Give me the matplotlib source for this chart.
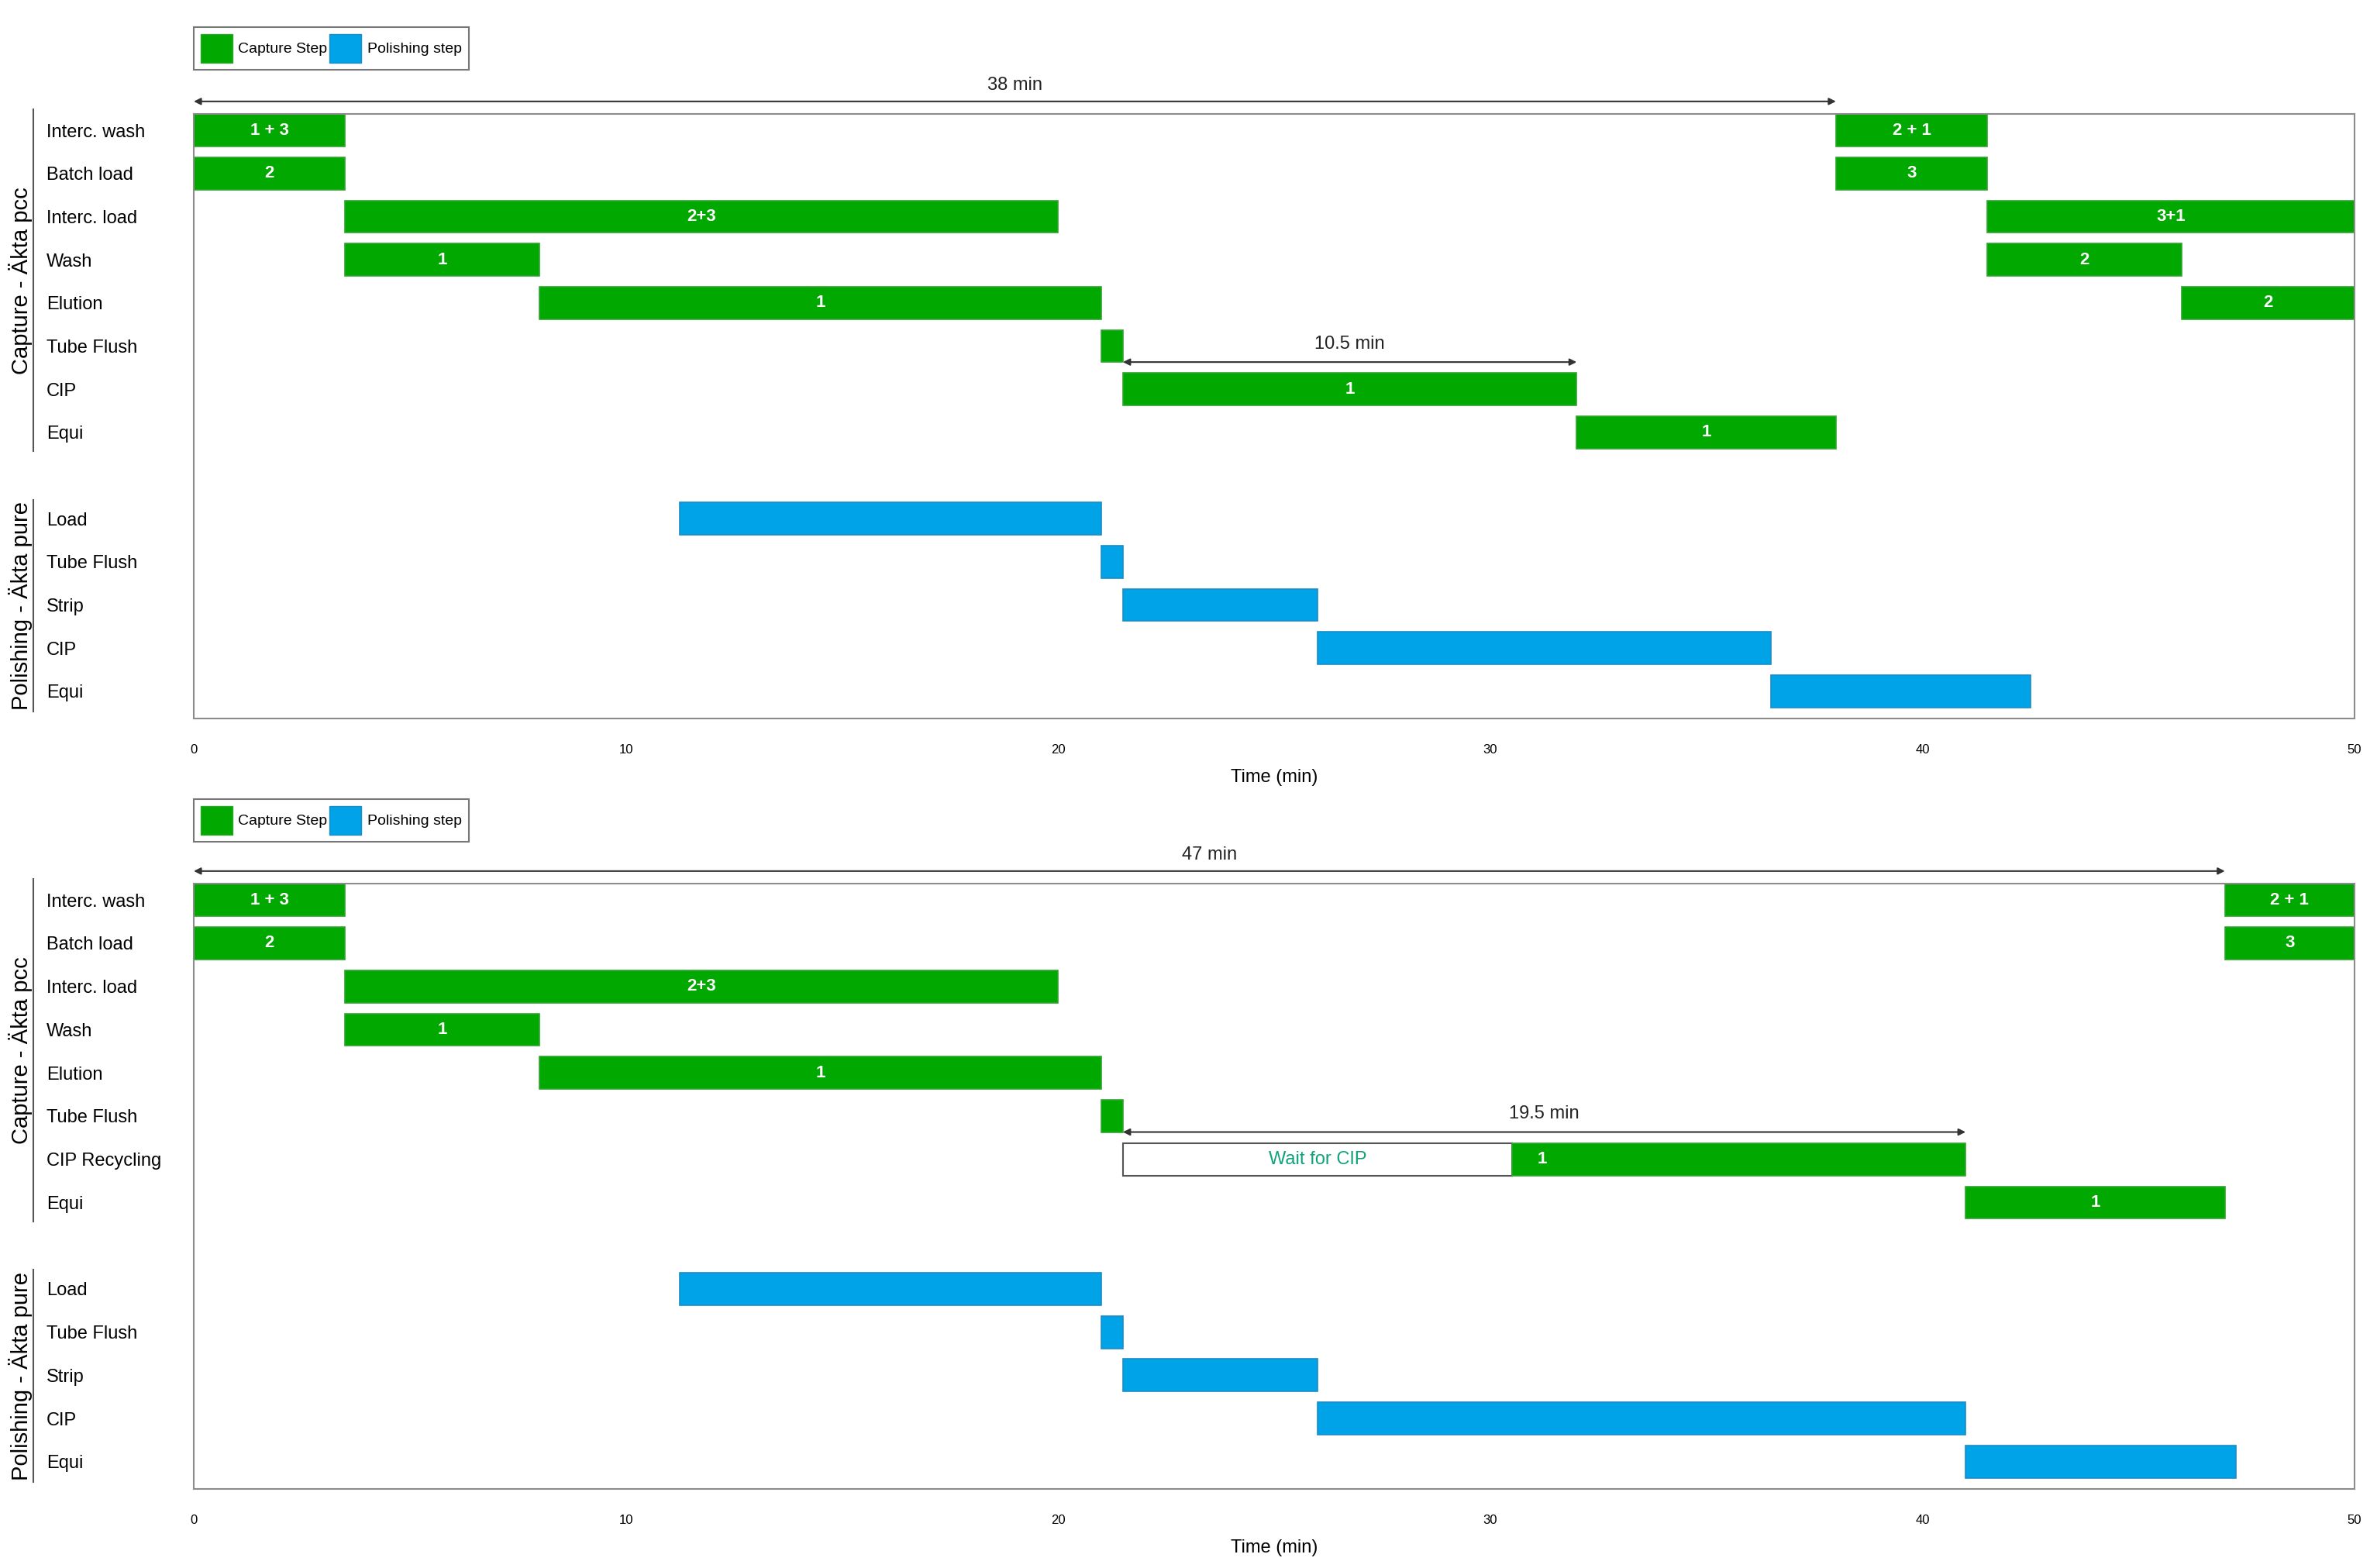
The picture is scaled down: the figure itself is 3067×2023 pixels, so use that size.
import matplotlib.pyplot as plt
from matplotlib.patches import Patch
from matplotlib.transforms import blended_transform_factory

plt.rcParams["font.family"] = ["Liberation Sans", "DejaVu Sans"]

GREEN = "#00A800"
BLUE = "#00A2E8"
FRAME = "#8C8C8C"

ROWS = [
    "Interc. wash", "Batch load", "Interc. load", "Wash", "Elution",
    "Tube Flush", "CIP", "Equi", "",
    "Load", "Tube Flush", "Strip", "CIP", "Equi",
]
ROWS_BOTTOM = [
    "Interc. wash", "Batch load", "Interc. load", "Wash", "Elution",
    "Tube Flush", "CIP Recycling", "Equi", "",
    "Load", "Tube Flush", "Strip", "CIP", "Equi",
]
GROUPS = ["Capture - Äkta pcc", "Polishing - Äkta pure"]
XTICKS = [0, 10, 20, 30, 40, 50]

# top schedule (38 min cycle)
top_row = [0, 0, 1, 1, 2, 2, 3, 3, 4, 4, 5, 6, 7, 9, 10, 11, 12, 13]
top_start = [0, 38, 0, 38, 3.5, 41.5, 3.5, 41.5, 8, 46, 21, 21.5, 32,
             11.25, 21, 21.5, 26, 36.5]
top_end = [3.5, 41.5, 3.5, 41.5, 20, 50, 8, 46, 21, 50, 21.5, 32, 38,
           21, 21.5, 26, 36.5, 42.5]
top_text = ["1 + 3", "2 + 1", "2", "3", "2+3", "3+1", "1", "2", "1", "2",
            "", "1", "1", "", "", "", "", ""]
top_step = ["C"] * 13 + ["P"] * 5
top_spans = [(0, 38, "38 min"), (21.5, 32, "10.5 min")]

# bottom schedule (47 min cycle, waiting for CIP)
bot_row = [0, 0, 1, 1, 2, 3, 4, 5, 6, 6, 7, 9, 10, 11, 12, 13]
bot_start = [0, 47, 0, 47, 3.5, 3.5, 8, 21, 21.5, 30.5, 41,
             11.25, 21, 21.5, 26, 41]
bot_end = [3.5, 50, 3.5, 50, 20, 8, 21, 21.5, 30.5, 41, 47,
           21, 21.5, 26, 41, 47.25]
bot_text = ["1 + 3", "2 + 1", "2", "3", "2+3", "1", "1", "", "Wait for CIP",
            "1", "1", "", "", "", "", ""]
bot_step = ["C"] * 8 + ["W"] + ["C"] * 2 + ["P"] * 5
bot_spans = [(0, 47, "47 min"), (21.5, 41, "19.5 min")]


def draw_panel(fig, rect, labels, rows, starts, ends, texts, steps, spans):
    ax = fig.add_axes(rect)
    h = 0.75
    for i in range(len(rows)):
        r, s, e, t, st = rows[i], starts[i], ends[i], texts[i], steps[i]
        if st == "W":
            ax.barh(r, e - s, left=s, height=h, color="white",
                    edgecolor="#555555", linewidth=1.5)
            ax.text((s + e) / 2, r, t, ha="center", va="center",
                    color="#10A37A", fontsize=17)
            continue
        col = GREEN if st == "C" else BLUE
        edge = "#2FA52F" if st == "C" else "#1B8CC4"
        ax.barh(r, e - s, left=s, height=h, color=col, edgecolor=edge,
                linewidth=1.2)
        if t:
            # label sits at the left end when the bar follows a wait box
            after_wait = i > 0 and steps[i - 1] == "W" and rows[i - 1] == r
            x = s + 0.7 if after_wait else (s + e) / 2
            ax.text(x, r, t, ha="center", va="center", color="white",
                    fontsize=16, fontweight="bold")

    # duration arrows
    for k, (s, e, t) in enumerate(spans):
        if k == 0:
            y_arr, y_txt = -0.67, -1.05
        else:
            y_arr, y_txt = 5.37, 4.95
        ax.annotate("", xy=(s, y_arr), xytext=(e, y_arr),
                    arrowprops=dict(arrowstyle="<|-|>", color="#333333",
                                    lw=1.5, mutation_scale=13,
                                    shrinkA=0, shrinkB=0),
                    annotation_clip=False)
        ax.text((s + e) / 2, y_txt, t, ha="center", va="center",
                fontsize=17, color="#222222")

    ax.set_xlim(0, 50)
    ax.set_ylim(13.63, -0.38)
    ax.set_xticks(XTICKS)
    ax.set_xticklabels([str(v) for v in XTICKS], fontsize=12)
    ax.tick_params(axis="x", length=0, pad=24)
    ax.set_xlabel("Time (min)", fontsize=17, labelpad=12)

    idx = [i for i, l in enumerate(labels) if l]
    ax.set_yticks(idx)
    ax.set_yticklabels([labels[i] for i in idx], fontsize=17, ha="left")
    ax.tick_params(axis="y", length=0, pad=137)

    for sp in ax.spines.values():
        sp.set_color(FRAME)
        sp.set_linewidth(1.5)

    # group labels with bracket lines
    tr = blended_transform_factory(fig.transFigure, ax.transData)
    for name, (y0, y1) in zip(GROUPS, [(-0.49, 7.44), (8.56, 13.47)]):
        ax.plot([43 / 3067, 43 / 3067], [y0, y1], color="#555555", lw=1.5,
                transform=tr, clip_on=False)
        ax.text(27 / 3067, (y0 + y1) / 2, name, rotation=90, ha="center",
                va="center", fontsize=21, transform=tr)
    return ax


W, H = 3067, 2023
fig = plt.figure(figsize=(W / 100, H / 100), dpi=100)

ax1 = draw_panel(fig, [250 / W, (H - 927) / H, 2788 / W, 780 / H],
                 ROWS, top_row, top_start, top_end, top_text, top_step,
                 top_spans)
ax2 = draw_panel(fig, [250 / W, (H - 1921) / H, 2788 / W, 781 / H],
                 ROWS_BOTTOM, bot_row, bot_start, bot_end, bot_text,
                 bot_step, bot_spans)

handles = [Patch(facecolor=GREEN, edgecolor="#2FA52F", label="Capture Step"),
           Patch(facecolor=BLUE, edgecolor="#1B8CC4", label="Polishing step")]
for ytop in (35, 1031):
    leg = fig.legend(handles=handles, loc="upper left",
                     bbox_to_anchor=(250 / W, 1 - ytop / H), ncol=2,
                     fontsize=14, frameon=True, fancybox=False,
                     edgecolor="#555555", handlelength=2.1, handleheight=2.6,
                     handletextpad=0.4, columnspacing=0.15, borderpad=0.45,
                     borderaxespad=0)
    leg.get_frame().set_linewidth(1.5)

fig.savefig("out.png", dpi=100)
